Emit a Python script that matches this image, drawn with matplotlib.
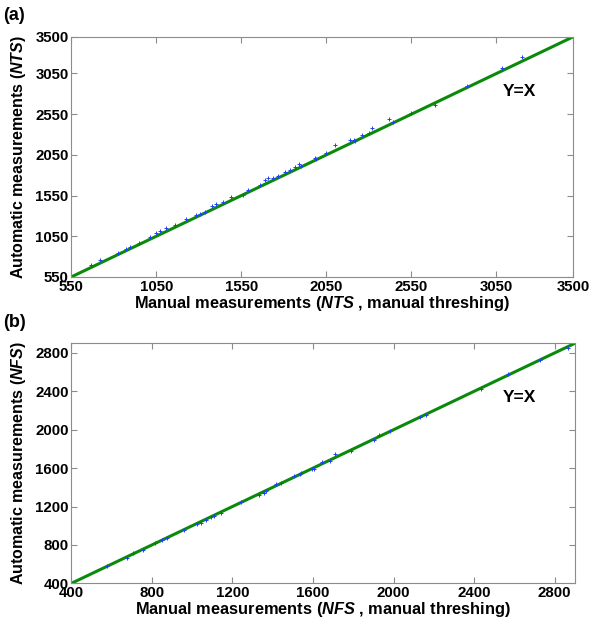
import matplotlib
matplotlib.use("Agg")
import matplotlib.pyplot as plt

# ---- data: panel (a), NTS ----
nts_manual = [668, 717, 825, 874, 893, 948, 1011, 1050, 1070, 1109, 1158, 1226,
              1285, 1305, 1334, 1374, 1403, 1442, 1491, 1560, 1589, 1658, 1687,
              1707, 1736, 1766, 1805, 1834, 1864, 1889, 1898, 1981, 1986, 2050,
              2103, 2186, 2213, 2219, 2258, 2301, 2317, 2420, 2439, 2550, 2686,
              2877, 3085, 3198]
nts_auto = [694, 756, 846, 887, 912, 961, 1036, 1085, 1110, 1147, 1188, 1258,
            1311, 1320, 1352, 1422, 1447, 1468, 1529, 1558, 1620, 1682, 1743,
            1764, 1764, 1793, 1834, 1859, 1900, 1937, 1914, 2011, 1997, 2075,
            2169, 2231, 2235, 2223, 2289, 2317, 2375, 2494, 2457, 2560, 2659,
            2894, 3120, 3252]
nts_ticks = [550, 1050, 1550, 2050, 2550, 3050, 3500]
nts_range = [550, 3500]

# ---- data: panel (b), NFS ----
nfs_manual = [575, 675, 705, 755, 817, 850, 875, 958, 1025, 1042, 1067, 1092,
              1108, 1142, 1242, 1333, 1355, 1367, 1417, 1442, 1505, 1537, 1542,
              1595, 1605, 1645, 1683, 1711, 1789, 1902, 1927, 1982, 2131, 2159,
              2433, 2566, 2729, 2865]
nfs_auto = [581, 668, 713, 748, 817, 852, 870, 957, 1019, 1033, 1061, 1089,
            1096, 1130, 1242, 1322, 1339, 1357, 1433, 1450, 1523, 1541, 1548,
            1590, 1590, 1659, 1677, 1746, 1781, 1889, 1941, 1990, 2129, 2157,
            2424, 2581, 2730, 2852]
nfs_ticks = [400, 800, 1200, 1600, 2000, 2400, 2800]
nfs_range = [400, 2900]

plt.rcParams["font.family"] = ["Liberation Sans", "DejaVu Sans"]
plt.rcParams["font.weight"] = "bold"
plt.rcParams["mathtext.fontset"] = "custom"
plt.rcParams["mathtext.rm"] = "Liberation Sans:bold"
plt.rcParams["mathtext.it"] = "Liberation Sans:italic:bold"
plt.rcParams["mathtext.bf"] = "Liberation Sans:bold"

GREEN = "#0a8a0a"
SPINE = "#8c8c8c"
BLUE = "#2040ff"

fig = plt.figure(figsize=(6, 6.25), dpi=100)
ax1 = fig.add_axes([0.119, 0.557, 0.836, 0.384])
ax2 = fig.add_axes([0.119, 0.0667, 0.839, 0.384])


def style(ax, ticks, rng):
    ax.set_xlim(rng)
    ax.set_ylim(rng)
    ax.set_xticks(ticks)
    ax.set_yticks(ticks)
    ax.tick_params(direction="in", length=4, width=0.8, color=SPINE,
                   top=True, right=True, labelsize=10.8, pad=2)
    for lab in ax.get_xticklabels() + ax.get_yticklabels():
        lab.set_fontweight("bold")
    for s in ax.spines.values():
        s.set_color(SPINE)
        s.set_linewidth(0.8)


# (a)
ax1.plot(nts_range, nts_range, color=GREEN, lw=2.2, zorder=2)
ax1.plot(nts_manual, nts_auto, "+", color=BLUE, ms=3.5, mew=0.7, zorder=3)
style(ax1, nts_ticks, nts_range)
ax1.set_xlabel(r"Manual measurements ($NTS$ , manual threshing)",
               fontsize=11.8, fontweight="bold", labelpad=0)
ax1.set_ylabel(r"Automatic measurements ($NTS$)", fontsize=11.5,
               fontweight="bold", labelpad=5)
ax1.text(3085, 2830, "Y=X", fontsize=12.5, fontweight="bold", va="center")
fig.text(0.005, 0.975, "(a)", fontsize=13, fontweight="bold", va="center")

# (b)
ax2.plot(nfs_range, nfs_range, color=GREEN, lw=2.2, zorder=2)
ax2.plot(nfs_manual, nfs_auto, "+", color=BLUE, ms=3.5, mew=0.7, zorder=3)
style(ax2, nfs_ticks, nfs_range)
ax2.set_xlabel(r"Manual measurements ($NFS$ , manual threshing)",
               fontsize=11.8, fontweight="bold", labelpad=0)
ax2.set_ylabel(r"Automatic measurements ($NFS$)", fontsize=11.5,
               fontweight="bold", labelpad=5)
ax2.text(2543, 2333, "Y=X", fontsize=12.5, fontweight="bold", va="center")
fig.text(0.005, 0.484, "(b)", fontsize=13, fontweight="bold", va="center")

fig.savefig("out.png", dpi=100, facecolor="white")
